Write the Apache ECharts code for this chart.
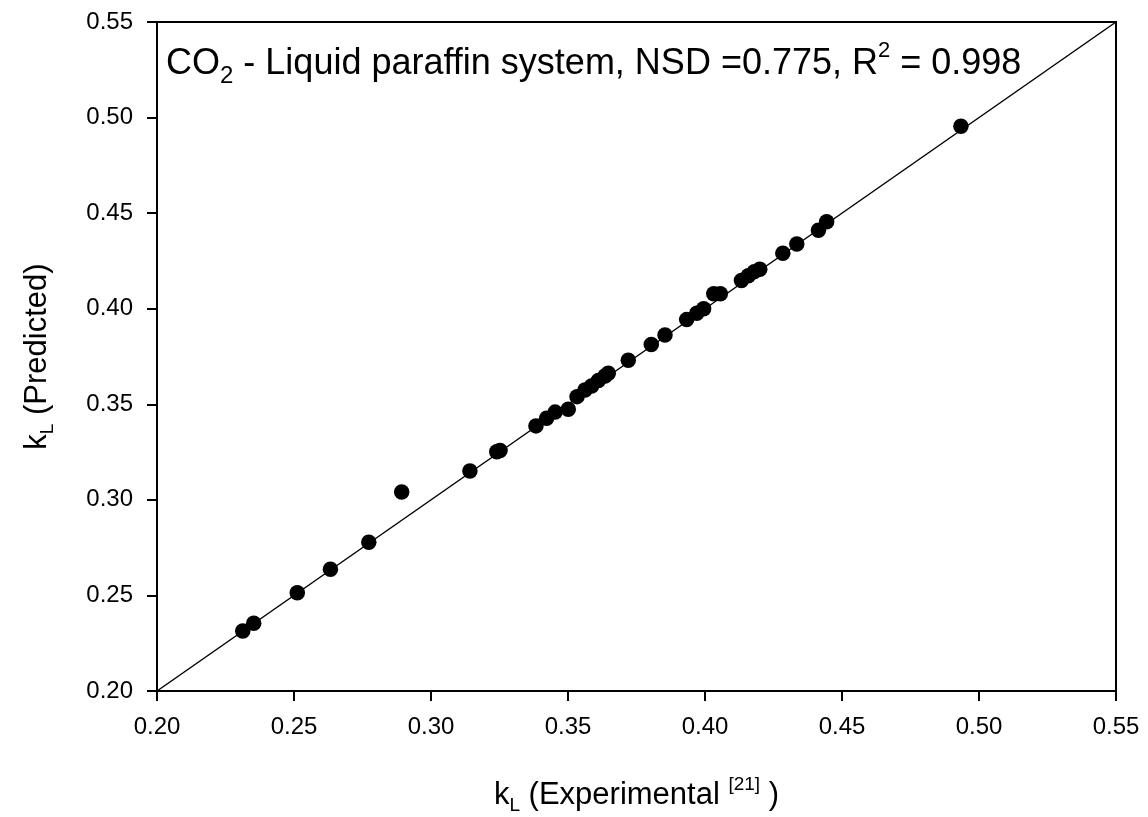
<!DOCTYPE html>
<html>
<head>
<meta charset="utf-8">
<script src="https://cdn.jsdelivr.net/npm/echarts@6/dist/echarts.min.js"></script>
<style>html,body{margin:0;padding:0;background:#fff}#c{width:1148px;height:817px}</style>
</head>
<body>
<div id="c"></div>
<script>
const kExperimental = [0.2313, 0.2353, 0.2512, 0.2633, 0.2773, 0.2893, 0.3142, 0.3240, 0.3252, 0.3383, 0.3422, 0.3453, 0.3501, 0.3533, 0.3562, 0.3586, 0.3611, 0.3635, 0.3647, 0.3720, 0.3804, 0.3854, 0.3933, 0.3970, 0.3995, 0.4032, 0.4056, 0.4133, 0.4158, 0.4180, 0.4200, 0.4284, 0.4335, 0.4414, 0.4444, 0.4934];
const kPredicted    = [0.2314, 0.2354, 0.2514, 0.2637, 0.2778, 0.3041, 0.3151, 0.3252, 0.3258, 0.3387, 0.3427, 0.3459, 0.3474, 0.3540, 0.3575, 0.3596, 0.3624, 0.3648, 0.3662, 0.3730, 0.3813, 0.3863, 0.3943, 0.3976, 0.4000, 0.4078, 0.4078, 0.4148, 0.4172, 0.4194, 0.4207, 0.4290, 0.4339, 0.4410, 0.4455, 0.4955];
const parityLine = [[0.20, 0.20], [0.55, 0.55]];
const axisMin = 0.20, axisMax = 0.55, axisStep = 0.05;

const FONT = '"Liberation Sans", Arial, sans-serif';
const points = kExperimental.map((x, i) => [x, kPredicted[i]]);

const nameRich = {
  m: { fontSize: 31, fontFamily: FONT, color: '#000', lineHeight: 40, verticalAlign: 'middle' },
  s: { fontSize: 19, fontFamily: FONT, color: '#000', lineHeight: 24, verticalAlign: 'bottom' },
  p: { fontSize: 19, fontFamily: FONT, color: '#000', lineHeight: 40, verticalAlign: 'top' }
};

const chart = echarts.init(document.getElementById('c'), null, { renderer: 'canvas' });
chart.setOption({
  backgroundColor: '#fff',
  animation: false,
  grid: { left: 157, top: 22, right: 32, bottom: 126, show: true, borderColor: '#000', borderWidth: 2, containLabel: false, outerBoundsMode: 'none' },
  xAxis: {
    type: 'value', min: axisMin, max: axisMax, interval: axisStep,
    axisLine: { show: true, onZero: false, lineStyle: { color: '#000', width: 2 } },
    axisTick: { show: true, inside: false, length: 10, lineStyle: { color: '#000', width: 2 } },
    splitLine: { show: false },
    axisLabel: { color: '#000', fontSize: 24, fontFamily: FONT, margin: 24, formatter: v => v.toFixed(2) },
    name: '{m|k}{s|L}{m| (Experimental }{p|[21]}{m| )}',
    nameLocation: 'middle', nameGap: 84,
    nameTextStyle: { rich: nameRich }
  },
  yAxis: {
    type: 'value', min: axisMin, max: axisMax, interval: axisStep,
    axisLine: { show: true, onZero: false, lineStyle: { color: '#000', width: 2 } },
    axisTick: { show: true, inside: false, length: 10, lineStyle: { color: '#000', width: 2 } },
    splitLine: { show: false },
    axisLabel: { color: '#000', fontSize: 24, fontFamily: FONT, margin: 24, formatter: v => v.toFixed(2) },
    name: '{m|k}{s|L}{m| (Predicted)}',
    nameLocation: 'middle', nameGap: 100,
    nameTextStyle: { rich: nameRich }
  },
  graphic: [{
    type: 'text', left: 166, top: 40, z: 10,
    style: {
      text: '{m|CO}{s|2}{m| - Liquid paraffin system, NSD =0.775, R}{p|2}{m| = 0.998}',
      rich: {
        m: { fontSize: 36, fontFamily: FONT, fill: '#000', lineHeight: 48, verticalAlign: 'middle' },
        s: { fontSize: 24, fontFamily: FONT, fill: '#000', lineHeight: 30, verticalAlign: 'bottom' },
        p: { fontSize: 22, fontFamily: FONT, fill: '#000', lineHeight: 48, verticalAlign: 'top' }
      }
    }
  }],
  series: [
    {
      type: 'line', data: parityLine, symbol: 'none', silent: true,
      lineStyle: { color: '#000', width: 1.5 }, z: 1
    },
    {
      type: 'scatter', data: points, symbol: 'circle', symbolSize: 15.5,
      itemStyle: { color: '#000', opacity: 1 }, z: 2
    }
  ]
});
</script>
</body>
</html>
